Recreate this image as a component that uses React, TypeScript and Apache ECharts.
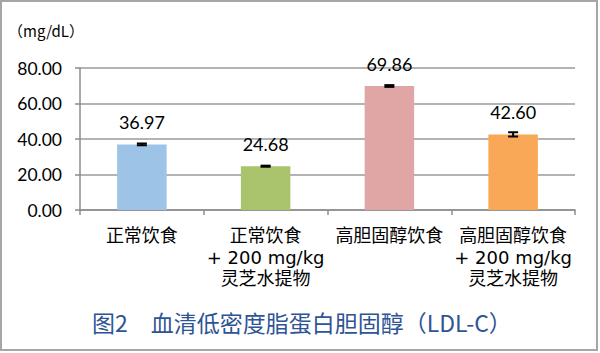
import React, { useEffect, useRef } from "react";
import * as echarts from "echarts";

const categories = [
  "正常饮食",
  "正常饮食\n+ 200 mg/kg\n灵芝水提物",
  "高胆固醇饮食",
  "高胆固醇饮食\n+ 200 mg/kg\n灵芝水提物",
];
const values = [36.97, 24.68, 69.86, 42.6];
const errors = [0.5, 0.3, 0.5, 1.2];
const barColors = ["#9DC3E6", "#A9C46C", "#E0A6A6", "#F8A857"];
const yTicks = [0, 20, 40, 60, 80];
const unitLabel = "（mg/dL）";
const titleText = "图2　血清低密度脂蛋白胆固醇（LDL-C）";

export default function App() {
  const ref = useRef<HTMLDivElement>(null);
  useEffect(() => {
    if (!ref.current) return;
    const chart = echarts.init(ref.current, null, { renderer: "svg" });
    const latin = "Lato, 'Noto Sans CJK SC', sans-serif";
    const wide = "'DejaVu Sans', 'Noto Sans CJK SC', sans-serif";
    chart.setOption({
      animation: false,
      backgroundColor: "#fff",
      grid: { left: 80, right: 25, top: 68, bottom: 143, containLabel: false },
      xAxis: {
        type: "category",
        data: categories,
        axisLine: { lineStyle: { color: "#8c8c8c", width: 1.5 } },
        axisTick: { show: true, length: 5, lineStyle: { color: "#8c8c8c", width: 1.5 } },
        axisLabel: {
          color: "#000",
          fontSize: 18,
          lineHeight: 21.5,
          margin: 15,
          interval: 0,
          fontFamily: wide,
        },
      },
      yAxis: {
        type: "value",
        min: yTicks[0],
        max: yTicks[yTicks.length - 1],
        interval: 20,
        axisLine: { show: true, lineStyle: { color: "#8c8c8c", width: 1.5 } },
        axisTick: { show: true, length: 5, lineStyle: { color: "#8c8c8c", width: 1.5 } },
        splitLine: { lineStyle: { color: "#9a9a9a", width: 1.5 } },
        axisLabel: {
          color: "#000",
          fontSize: 17.5,
          margin: 18,
          fontFamily: latin,
          formatter: (v: number) => v.toFixed(2),
        },
      },
      series: [
        {
          type: "bar",
          barWidth: "40%",
          data: values.map((v, i) => ({ value: v, itemStyle: { color: barColors[i] } })),
          label: {
            show: true,
            position: "top",
            distance: 13,
            color: "#000",
            fontSize: 18,
            fontFamily: latin,
            formatter: (p: any) => Number(p.value).toFixed(2),
          },
          z: 2,
        },
        {
          type: "custom",
          data: values.map((v, i) => [i, v - errors[i], v + errors[i]]),
          z: 3,
          renderItem: (params: any, api: any) => {
            const x = api.value(0);
            const lo = api.coord([x, api.value(1)]);
            const hi = api.coord([x, api.value(2)]);
            const hw = 5;
            const style = { stroke: "#000", lineWidth: 2 };
            return {
              type: "group",
              children: [
                { type: "line", shape: { x1: lo[0], y1: lo[1], x2: hi[0], y2: hi[1] }, style },
                { type: "line", shape: { x1: lo[0] - hw, y1: lo[1], x2: lo[0] + hw, y2: lo[1] }, style },
                { type: "line", shape: { x1: hi[0] - hw, y1: hi[1], x2: hi[0] + hw, y2: hi[1] }, style },
              ],
            };
          },
        },
      ],
      graphic: [
        {
          type: "rect",
          shape: { x: 1, y: 1, width: 596, height: 349 },
          style: { fill: "none", stroke: "#a6a6a6", lineWidth: 2 },
          silent: true,
        },
        {
          type: "text",
          left: 8,
          top: 23,
          style: {
            text: unitLabel,
            fill: "#000",
            fontSize: 15,
            fontFamily: "'Noto Sans CJK SC', sans-serif",
          },
        },
        {
          type: "text",
          left: 92,
          top: 310,
          style: {
            text: titleText,
            fill: "#2F5496",
            fontSize: 23,
            fontFamily: "'Noto Sans CJK SC', sans-serif",
          },
        },
      ],
    });
    return () => chart.dispose();
  }, []);
  return (
    <div
      ref={ref}
      style={{ position: "fixed", left: 0, top: 0, width: 600, height: 353 }}
    />
  );
}
